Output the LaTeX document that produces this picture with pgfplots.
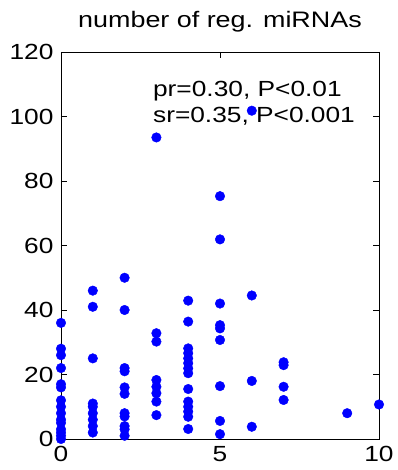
\documentclass[border=0pt]{standalone}
\usepackage{fontspec}
\setmainfont{Liberation Sans}[FakeStretch=1.2]
\usepackage{pgfplots}
\pgfplotsset{compat=1.18}
\begin{document}
\fontsize{22}{26}\selectfont
\begin{tikzpicture}
\begin{axis}[
  scale only axis, width=318bp, height=387bp,
  xmin=0, xmax=10, ymin=0, ymax=120,
  xtick={0,5,10}, ytick={0,20,40,60,80,100,120},
  tick align=inside, major tick length=6bp,
  axis line style={line width=0.8pt, black},
  tick style={black, line width=0.8pt},
  ticklabel style={font=\fontsize{22}{26}\selectfont},
  /pgf/number format/assume math mode=true,
  title={number of reg. miRNAs},
  title style={font=\fontsize{22.5}{26}\selectfont, at={(0.5,1)}, anchor=base, yshift=18.5bp},
  clip=false,
]
\addplot[only marks, mark=*, mark size=4.8bp, color=blue, mark options={draw=blue, fill=blue}] table {
x y
0 36
0 28
0 26
0 22
0 17
0 16
0 12
0 10
0 8
0 6
0 5
0 3
0 2
0 1
0 0
1 46
1 41
1 25
1 11
1 10
1 8
1 6
1 4
1 2
2 50
2 40
2 22
2 21
2 16
2 14
2 8
2 7
2 4
2 3
2 1
3 93.5
3 32.8
3 30.2
3 18.3
3 16.2
3 14.2
3 11.6
3 7.4
4 42.9
4 36.4
4 28.1
4 26.6
4 25
4 23.5
4 21.9
4 20.4
4 15.5
4 11.6
4 10
4 8.5
4 6.9
4 3.1
5 75.3
5 61.9
5 42
5 35.3
5 34.3
5 30.7
5 16.4
5 5.6
5 1.5
6 101.8
6 44.5
6 18
6 3.8
7 23.8
7 22.9
7 16.2
7 12.1
9 8
10 10.7
};
\node[anchor=base west, inner sep=0pt] at (axis cs:2.89,106.1) {pr=0.30, P<0.01};
\node[anchor=base west, inner sep=0pt] at (axis cs:2.89,98.2) {sr=0.35, P<0.001};
\end{axis}
\pgfresetboundingbox
\path[use as bounding box] ([shift={(-61bp,-31bp)}]current axis.south west) rectangle ([shift={(19bp,52bp)}]current axis.north east);
\end{tikzpicture}
\end{document}
